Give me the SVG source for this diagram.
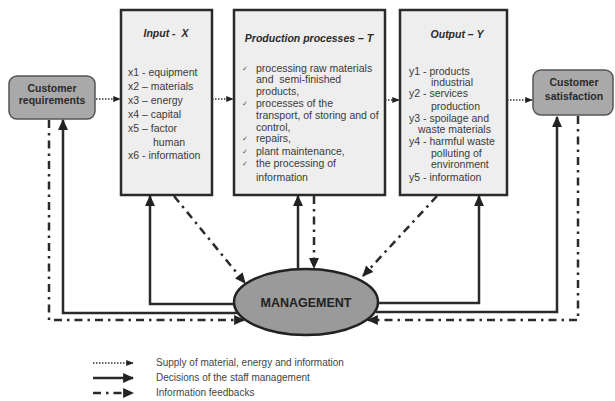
<svg xmlns="http://www.w3.org/2000/svg" width="615" height="401" viewBox="0 0 615 401">
<defs>
<marker id="ah" viewBox="0 0 10 10" refX="9" refY="5" markerWidth="4.4" markerHeight="4.4" orient="auto" markerUnits="strokeWidth">
<path d="M0,0.5 L10,5 L0,9.5 z" fill="#222"/>
</marker>
<marker id="ahs" viewBox="0 0 10 10" refX="9" refY="5" markerWidth="5" markerHeight="5" orient="auto" markerUnits="strokeWidth">
<path d="M0,1 L10,5 L0,9 z" fill="#222"/>
</marker>
</defs>
<style>
.box{fill:#eeeeee;stroke:#2a2a2a;stroke-width:2.5}
.cbox{fill:#a9a9a9;stroke:#555;stroke-width:1.5}
.t{font-family:"Liberation Sans",Arial,sans-serif;font-size:10.5px;fill:#3a3a3a}
.title{font-family:"Liberation Sans",Arial,sans-serif;font-size:10.5px;font-weight:bold;font-style:italic;fill:#2a2a2a}
.ct{font-family:"Liberation Sans",Arial,sans-serif;font-size:10.5px;font-weight:bold;fill:#2a2a2a}
.ck{font-family:"DejaVu Sans",sans-serif;font-size:7px;fill:#555}
.lg{font-family:"Liberation Sans",Arial,sans-serif;font-size:10px;fill:#444}
.dot{fill:none;stroke:#333;stroke-width:1.5;stroke-dasharray:1.5 1.5;marker-end:url(#ahs)}
.sol{fill:none;stroke:#2a2a2a;stroke-width:2.5;marker-end:url(#ah)}
.dd{fill:none;stroke:#2a2a2a;stroke-width:2.5;stroke-dasharray:8 5 2.5 5;marker-end:url(#ah)}
</style>
<rect width="615" height="401" fill="#ffffff"/>

<g id="customer-requirements">
<rect class="cbox" x="9" y="76" width="86" height="43" rx="8"/>
<text class="ct" x="52" y="92" text-anchor="middle">Customer</text>
<text class="ct" x="52" y="104" text-anchor="middle">requirements</text>
</g>

<g id="input">
<rect class="box" x="121" y="10" width="91" height="185"/>
<text class="title" x="166" y="37" text-anchor="middle">Input -&#160; X</text>
<text class="t" x="128" y="76">x1 - equipment</text>
<text class="t" x="128" y="90">x2 – materials</text>
<text class="t" x="128" y="104">x3 – energy</text>
<text class="t" x="128" y="118">x4 – capital</text>
<text class="t" x="128" y="132">x5 – factor</text>
<text class="t" x="153" y="146">human</text>
<text class="t" x="128" y="159">x6 - information</text>
</g>

<g id="production">
<rect class="box" x="234" y="10" width="151" height="185"/>
<text class="title" x="309" y="42" text-anchor="middle">Production processes – T</text>
<text class="ck" x="242" y="71">✓</text>
<text class="t" x="256" y="72">processing raw materials</text>
<text class="t" x="256" y="83">and&#160; semi-finished</text>
<text class="t" x="256" y="95">products,</text>
<text class="ck" x="242" y="106">✓</text>
<text class="t" x="256" y="107">processes of the</text>
<text class="t" x="256" y="119">transport, of storing and of</text>
<text class="t" x="256" y="131">control,</text>
<text class="ck" x="242" y="141">✓</text>
<text class="t" x="256" y="142">repairs,</text>
<text class="ck" x="242" y="154">✓</text>
<text class="t" x="256" y="155">plant maintenance,</text>
<text class="ck" x="242" y="166">✓</text>
<text class="t" x="256" y="167">the processing of</text>
<text class="t" x="256" y="181">information</text>
</g>

<g id="output">
<rect class="box" x="400" y="10" width="107" height="185"/>
<text class="title" x="457" y="38" text-anchor="middle">Output – Y</text>
<text class="t" x="409" y="75">y1 - products</text>
<text class="t" x="431" y="86">industrial</text>
<text class="t" x="409" y="97">y2 - services</text>
<text class="t" x="431" y="110">production</text>
<text class="t" x="409" y="122">y3 - spoilage and</text>
<text class="t" x="418" y="133">waste materials</text>
<text class="t" x="409" y="145">y4 - harmful waste</text>
<text class="t" x="431" y="157">polluting of</text>
<text class="t" x="431" y="168">environment</text>
<text class="t" x="409" y="181">y5 - information</text>
</g>

<g id="customer-satisfaction">
<rect class="cbox" x="533" y="70" width="80" height="45" rx="8"/>
<text class="ct" x="574" y="86" text-anchor="middle">Customer</text>
<text class="ct" x="574" y="100" text-anchor="middle">satisfaction</text>
</g>

<g id="management">
<ellipse cx="306" cy="302" rx="72" ry="33" fill="#9a9a9a" stroke="#222" stroke-width="2.5"/>
<text x="306" y="306.5" text-anchor="middle" font-family="'Liberation Sans',Arial,sans-serif" font-size="12.5" font-weight="bold" fill="#222">MANAGEMENT</text>
</g>

<g id="connectors">
<path class="dot" d="M96,99 H120"/>
<path class="dot" d="M212,99 H233"/>
<path class="dot" d="M385,100 H399"/>
<path class="dot" d="M507,100 H532"/>

<path class="sol" d="M238,313 H63 V120"/>
<path class="sol" d="M234,304 H150 V196"/>
<path class="sol" d="M298,269 V196"/>
<path class="sol" d="M378,303 H479 V196"/>
<path class="sol" d="M376,312 H557 V117"/>

<path class="dd" d="M49,120 V320 H244"/>
<path class="dd" d="M578,116 V320 H368"/>
<path class="dd" d="M174,196 L245,283"/>
<path class="dd" d="M314,196 V268"/>
<path class="dd" d="M437,196 L363,276"/>
</g>

<g id="legend">
<path class="dot" d="M93,363 H133"/>
<text class="lg" x="156" y="366">Supply of material, energy and information</text>
<path class="sol" d="M93,378 H133"/>
<text class="lg" x="156" y="381">Decisions of the staff management</text>
<path class="dd" d="M93,393 H133" stroke-dasharray="9 5 2.5 5"/>
<text class="lg" x="156" y="396">Information feedbacks</text>
</g>
</svg>
